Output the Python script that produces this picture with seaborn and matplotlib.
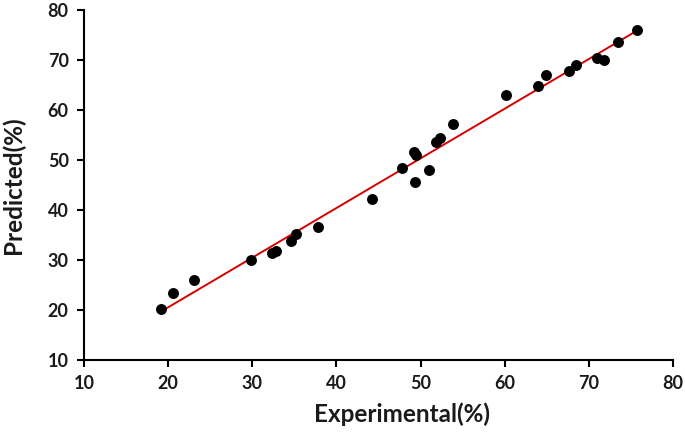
import numpy as np
import pandas as pd
import matplotlib
matplotlib.use("Agg")
import matplotlib.pyplot as plt
import seaborn as sns

experimental = [19.1, 20.6, 23.1, 29.9, 32.4, 32.8, 34.6, 35.2, 37.8, 44.2,
                47.8, 49.3, 49.2, 49.4, 51.0, 51.8, 52.3, 53.8, 60.1, 63.9,
                64.9, 67.6, 68.5, 71.0, 71.8, 73.5, 75.7]
predicted = [20.2, 23.3, 25.9, 30.0, 31.3, 31.7, 33.7, 35.1, 36.6, 42.1,
             48.4, 45.5, 51.5, 50.9, 47.9, 53.6, 54.4, 57.1, 62.9, 64.7,
             67.0, 67.8, 69.0, 70.3, 70.0, 73.6, 75.9]
x_ticks = [10, 20, 30, 40, 50, 60, 70, 80]
y_ticks = [10, 20, 30, 40, 50, 60, 70, 80]

df = pd.DataFrame({"Experimental": experimental, "Predicted": predicted})

sns.set_style("ticks")
plt.rcParams["font.family"] = ["Lato", "DejaVu Sans"]

fig = plt.figure(figsize=(6.85, 4.34), dpi=100)
ax = fig.add_axes([0.1226, 0.1705, 0.86, 0.8065])

sns.regplot(data=df, x="Experimental", y="Predicted", ci=None, ax=ax,
            scatter_kws=dict(s=62, color="black", edgecolor="black", linewidths=0,
                             alpha=1, zorder=3),
            line_kws=dict(color="#d40000", lw=1.4, zorder=2))

ax.set_xlim(10, 80)
ax.set_ylim(10, 80)
ax.set_xticks(x_ticks)
ax.set_yticks(y_ticks)
ax.set_xticklabels([str(t) for t in x_ticks], fontsize=13, fontweight="bold", color="#1a1a1a")
ax.set_yticklabels([str(t) for t in y_ticks], fontsize=13, fontweight="bold", color="#1a1a1a")
ax.tick_params(direction="out", length=5, width=1.5, color="black", pad=6)
for s in ["top", "right"]:
    ax.spines[s].set_visible(False)
for s in ["left", "bottom"]:
    ax.spines[s].set_linewidth(1.5)
    ax.spines[s].set_color("black")
ax.set_xlabel("Experimental(%)", fontsize=17.5, fontweight="bold", color="#1a1a1a")
ax.set_ylabel("Predicted(%)", fontsize=17.5, fontweight="bold", color="#1a1a1a")
ax.xaxis.set_label_coords(0.54, -0.12)
ax.yaxis.set_label_coords(-0.1, 0.5)

fig.savefig("out.png", dpi=100)
